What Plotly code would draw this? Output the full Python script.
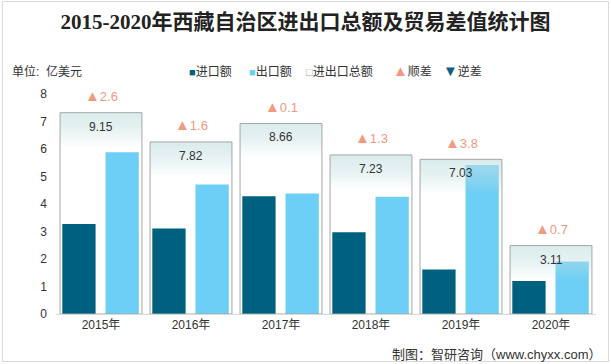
import plotly.graph_objects as go

years = ["2015年", "2016年", "2017年", "2018年", "2019年", "2020年"]
imports = [3.27, 3.11, 4.28, 2.97, 1.62, 1.20]
exports = [5.88, 4.71, 4.38, 4.26, 5.42, 1.91]
totals = [9.15, 7.82, 8.66, 7.23, 7.03, 3.11]
balance = [2.6, 1.6, 0.1, 1.3, 3.8, 0.7]

C_IMP = "#00607f"
C_EXP = "#6dcff6"
C_BOX = "#a6a6a6"
C_SUR = "#f19a80"
C_DEF = "#0f5f80"
FONT = "Liberation Sans, Noto Sans CJK SC, sans-serif"

W, H = 611, 364
ML, MR, MT, MB = 56, 15, 94, 50
PW, PH = W - ML - MR, H - MT - MB


def px_x(px):
    return (px - ML) / PW


def px_y(py):
    return (MT + PH - py) / PH


fig = go.Figure()

fig.add_trace(go.Bar(x=years, y=imports, name="进口额", marker=dict(color=C_IMP, line_width=0),
                     width=0.37, offset=-0.43, yaxis="y"))
fig.add_trace(go.Bar(x=years, y=exports, name="出口额", marker=dict(color=C_EXP, line_width=0),
                     width=0.37, offset=0.05, yaxis="y"))

# gradient at top of total box (layered translucent bars)
n = 12
depth = 1.5
for k in range(n):
    d = depth * (k + 1) / n
    fig.add_trace(go.Bar(x=years, y=[d] * len(totals), base=[t - d for t in totals],
                         width=0.91, offset=-0.455, yaxis="y2", showlegend=False, hoverinfo="skip",
                         marker=dict(color="rgba(200,232,228,0.075)", line_width=0)))

fig.add_trace(go.Bar(x=years, y=totals, name="进出口总额", width=0.91, offset=-0.455, yaxis="y2",
                     marker=dict(color="rgba(255,255,255,0)", line=dict(color=C_BOX, width=1))))

annotations = []
for yr, t, b in zip(years, totals, balance):
    annotations.append(dict(x=yr, y=t, xref="x", yref="y2", text=f"{t:.2f}", showarrow=False,
                            yshift=-14, font=dict(size=12, color="#333333", family=FONT)))
    sym = "▲" if b >= 0 else "▼"
    col = C_SUR if b >= 0 else C_DEF
    annotations.append(dict(x=yr, y=t, xref="x", yref="y2",
                            text=f"<span style='font-size:15px'>{sym}</span>{abs(b):g}", showarrow=False,
                            yshift=17, font=dict(size=13, color=col, family=FONT)))

# legend built as text items
legend_items = [
    (187, f"<span style='color:{C_IMP};font-size:11px'>■</span>进口额", 72),
    (247, f"<span style='color:{C_EXP};font-size:11px'>■</span>出口额", 72),
    (304, f"<span style='color:{C_BOX};font-size:11px'>□</span>进出口总额", 72),
    (391, f"<span style='color:{C_SUR};font-size:15px'>▲</span>顺差", 70),
    (441, f"<span style='color:{C_DEF};font-size:15px'>▼</span>逆差", 70),
]
for lx, txt, ly in legend_items:
    annotations.append(dict(x=px_x(lx), y=px_y(ly), xref="paper", yref="paper", xanchor="left",
                            yanchor="middle", text=txt, showarrow=False,
                            font=dict(size=12, color="#333333", family=FONT)))

annotations.append(dict(x=px_x(10), y=px_y(72), xref="paper", yref="paper",
                        xanchor="left", yanchor="middle", text="单位:  亿美元", showarrow=False,
                        font=dict(size=12, color="#333333", family=FONT)))
annotations.append(dict(x=px_x(603), y=px_y(354), xref="paper", yref="paper",
                        xanchor="right", yanchor="middle", text="制图：智研咨询（www.chyxx.com）",
                        showarrow=False, font=dict(size=13, color="#333333", family=FONT)))

shapes = [dict(type="rect", xref="paper", yref="paper",
               x0=px_x(2.5), x1=px_x(W - 2.5), y0=px_y(H - 2.5), y1=px_y(1.5),
               line=dict(color="#d9d9d9", width=1), fillcolor="rgba(0,0,0,0)", layer="below")]

fig.update_layout(
    width=W, height=H,
    margin=dict(l=ML, r=MR, t=MT, b=MB, autoexpand=False),
    paper_bgcolor="white", plot_bgcolor="white",
    barmode="overlay",
    showlegend=False,
    title=dict(text="<b>2015-2020年西藏自治区进出口总额及贸易差值统计图</b>", x=0.5, xanchor="center",
               y=1 - 22 / H, yanchor="middle",
               font=dict(size=21, color="#222222", family="Liberation Serif, Noto Sans CJK SC, serif")),
    font=dict(family=FONT, size=12, color="#333333"),
    xaxis=dict(type="category", showgrid=False, showline=True, linecolor="#d9d9d9", linewidth=1,
               ticks="", tickfont=dict(size=12, color="#333333"), range=[-0.5, 5.5], automargin=False),
    yaxis=dict(range=[0, 8], dtick=1, showgrid=False, zeroline=False, showline=False,
               tickfont=dict(size=12, color="#333333"), ticks="", ticklabelstandoff=8, automargin=False),
    yaxis2=dict(range=[0, 10], overlaying="y", showgrid=False, zeroline=False, showticklabels=False,
                showline=False, automargin=False),
    annotations=annotations,
    shapes=shapes,
)

fig.write_html("out.html", config={"displayModeBar": False},
               post_script="document.body.style.margin='0';document.body.style.overflow='hidden';")
